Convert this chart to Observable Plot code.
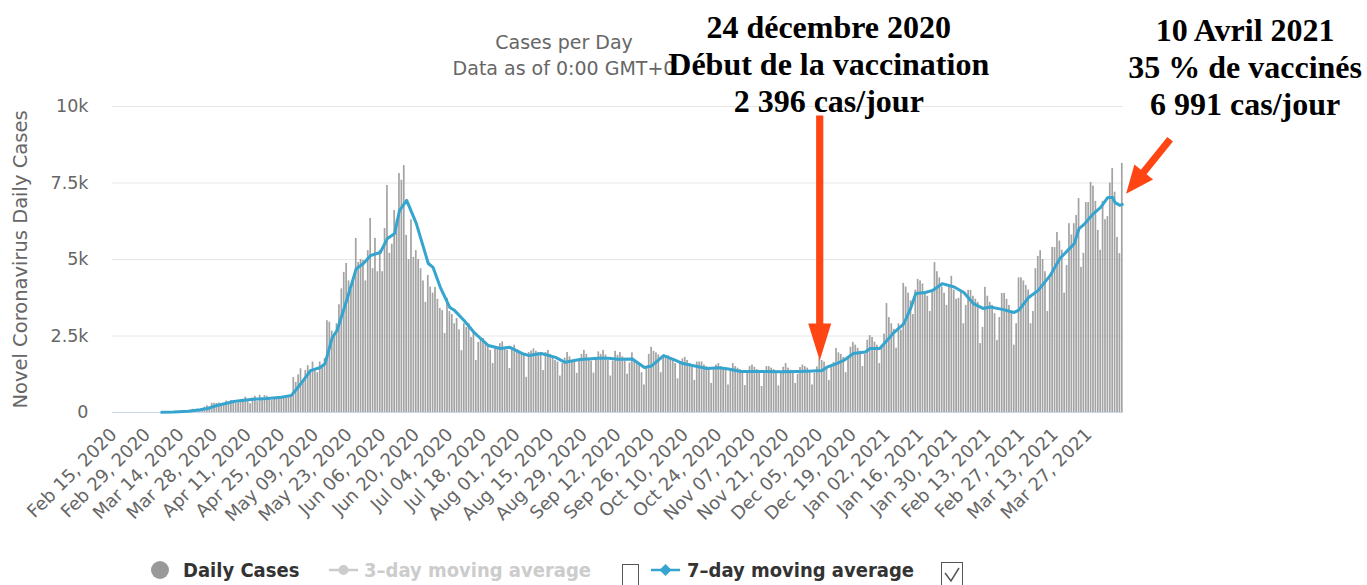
<!DOCTYPE html>
<html>
<head>
<meta charset="utf-8">
<script src="https://cdn.jsdelivr.net/npm/d3@7"></script>
<script src="https://cdn.jsdelivr.net/npm/@observablehq/plot@0.6"></script>
<style>
  body { margin: 0; background: #fff; }
  #chart { width: 1367px; height: 545px; }
  #legend { position: relative; width: 1367px; height: 40px; overflow: hidden;
    font-family: "DejaVu Sans Condensed", "DejaVu Sans", sans-serif; font-weight: bold; font-size: 20px; }
  #legend .t { position: absolute; top: 12px; line-height: 26px; white-space: nowrap; }
  #legend .box { position: absolute; top: 19px; width: 17px; height: 22px; border: 1.5px solid #555; box-sizing: border-box; background: #fff; }
  #legend svg { position: absolute; }
</style>
</head>
<body>
<div id="chart"></div>
<div id="legend">
  <span style="position:absolute;left:151px;top:16px;width:18px;height:18px;border-radius:50%;background:#999"></span>
  <span class="t" style="left:183px;color:#333">Daily Cases</span>
  <svg style="left:328px;top:15px" width="32" height="20"><line x1="1" y1="10" x2="30" y2="10" stroke="#ccc" stroke-width="2.5"/><circle cx="15.5" cy="10" r="5" fill="#ccc"/></svg>
  <span class="t" style="left:364px;color:#ccc">3–day moving average</span>
  <span class="box" style="left:622px"></span>
  <svg style="left:650px;top:15px" width="32" height="20"><line x1="1" y1="10" x2="30" y2="10" stroke="#35a4cf" stroke-width="2.5"/><path d="M15.5 4 L21.5 10 L15.5 16 L9.5 10 Z" fill="#35a4cf"/></svg>
  <span class="t" style="left:687px;color:#333">7–day moving average</span>
  <span class="box" style="left:941px;top:17px;width:22px;height:26px"><svg style="left:2px;top:4px" width="16" height="16"><path d="M1 6 L7 14 L15 1" fill="none" stroke="#555" stroke-width="1.5"/></svg></span>
</div>
<script>
// ---- data ----
const firstDay = "2020-02-15";
// daily new cases, one value per day from 2020-02-15 to 2021-04-10
const dailyCases = [
  0,0,0,0,0,0,0,
  0,0,0,0,0,0,0,
  0,0,0,1,2,1,1,
  2,3,3,4,6,10,10,
  18,14,61,40,46,104,92,
  103,95,114,176,220,164,304,
  299,293,310,289,293,373,308,
  392,344,301,310,426,430,502,
  426,286,470,529,357,563,399,
  552,531,425,394,494,500,482,
  530,480,465,490,550,1140,985,
  1230,1430,980,1370,1530,1390,1650,
  1350,1300,1650,1530,1760,3000,2950,
  2660,2500,2900,3520,4040,4580,4870,
  4300,4000,4300,5690,4900,5000,4970,
  4300,5290,6340,4700,5690,4600,5300,
  4600,6010,7420,5200,5500,6600,6300,
  7810,7590,8070,5790,5000,6300,5070,
  5290,5000,4700,4300,3600,4480,4100,
  3900,4090,3700,3400,3330,2580,3730,
  3300,3200,2900,3070,2700,2020,2900,
  2780,2900,2450,2600,1700,2290,2420,
  2420,2300,2200,2030,1600,2090,2130,
  2250,2310,2090,2030,1440,2090,2200,
  2050,1960,1900,1860,1150,1960,2010,
  2080,2000,1960,1900,1370,1960,2030,
  1900,1800,1700,1650,1190,1600,1780,
  1960,1820,1700,1690,1280,1700,1900,
  2030,1900,1760,1680,1290,1750,1980,
  1900,2030,1880,1700,1190,1680,2000,
  1870,1960,1820,1690,1250,1620,1950,
  1700,1600,1550,1300,900,1450,1900,
  2130,2000,1950,1880,1300,1800,1850,
  1850,1750,1700,1600,1100,1600,1750,
  1800,1700,1600,1500,1050,1650,1650,
  1650,1550,1500,1450,950,1450,1550,
  1600,1500,1450,1400,900,1350,1600,
  1500,1450,1400,1350,880,1350,1500,
  1550,1480,1400,1300,850,1300,1500,
  1500,1450,1400,1300,870,1320,1480,
  1600,1450,1380,1350,950,1250,1470,
  1550,1500,1450,1350,900,1280,1490,
  1770,1700,1650,1500,1050,1550,1630,
  2090,1950,1900,1800,1300,1780,2130,
  2290,2200,2100,2000,1500,1900,2360,
  2510,2450,2300,2200,1600,2130,2560,
  3560,3100,2900,2720,2100,2900,2690,
  4220,4100,3900,3650,3200,4000,4350,
  4300,4200,3950,3800,3300,4000,4900,
  4600,4400,4100,3900,3500,4100,4450,
  4000,3700,3730,3990,2900,3500,3990,
  3990,3800,3700,3600,2250,2780,4090,
  3800,3600,3500,3230,2350,3100,3890,
  3890,3700,3500,3300,2200,2900,4400,
  4400,4300,4150,4000,2900,3300,4700,
  5100,5290,5000,4600,3300,4400,5390,
  5390,5880,5600,5300,3900,4800,6170,
  5800,6170,6440,6990,4740,5200,6860,
  6860,7520,7400,6900,5950,5300,6900,
  6300,6400,7500,7970,7200,5720,5190,
  8140
];
// 7-day moving average
const avgDates = [
  "2020-03-06","2020-03-11","2020-03-17","2020-03-22","2020-03-25","2020-03-29","2020-04-02","2020-04-05",
  "2020-04-11","2020-04-15","2020-04-19","2020-04-25","2020-04-29","2020-05-01","2020-05-03","2020-05-07",
  "2020-05-11","2020-05-13","2020-05-16","2020-05-18","2020-05-22","2020-05-26","2020-05-29","2020-06-01",
  "2020-06-05","2020-06-08","2020-06-11","2020-06-13","2020-06-16","2020-06-20","2020-06-25","2020-06-27",
  "2020-06-30","2020-07-04","2020-07-06","2020-07-10","2020-07-14","2020-07-20","2020-07-25","2020-07-29",
  "2020-08-03","2020-08-06","2020-08-11","2020-08-17","2020-08-21","2020-08-27","2020-09-04","2020-09-08",
  "2020-09-12","2020-09-18","2020-09-23","2020-09-26","2020-10-01","2020-10-06","2020-10-09","2020-10-14",
  "2020-10-19","2020-10-24","2020-10-28","2020-11-02","2020-11-12","2020-11-19","2020-11-26","2020-11-30",
  "2020-12-06","2020-12-08","2020-12-12","2020-12-15","2020-12-19","2020-12-24","2020-12-26","2020-12-30",
  "2021-01-02","2021-01-05","2021-01-09","2021-01-12","2021-01-14","2021-01-18","2021-01-21","2021-01-25",
  "2021-01-30","2021-02-03","2021-02-07","2021-02-11","2021-02-14","2021-02-19","2021-02-24","2021-02-26",
  "2021-03-02","2021-03-06","2021-03-11","2021-03-15","2021-03-21","2021-03-23","2021-03-25","2021-03-29",
  "2021-04-01","2021-04-04","2021-04-06","2021-04-07","2021-04-09","2021-04-10"
];
const avgValues = [
  5,15,40,90,130,230,300,360,
  420,445,460,500,560,750,950,1370,
  1470,1600,2450,2680,3660,4700,4870,5130,
  5230,5690,5850,6600,6930,6180,4870,4740,
  4090,3430,3330,3000,2620,2190,2090,2130,
  1930,1860,1930,1800,1640,1730,1770,1770,
  1740,1750,1470,1520,1860,1700,1600,1520,
  1440,1460,1420,1340,1340,1330,1340,1350,
  1370,1480,1600,1700,1930,1980,2090,2090,
  2350,2620,2900,3430,3890,3920,3990,4210,
  4100,3920,3560,3400,3450,3370,3270,3350,
  3760,3990,4480,5030,5520,6010,6140,6500,
  6700,7030,7030,6860,6770,6800
];
const xTickLabels = [
  "Feb 15, 2020","Feb 29, 2020","Mar 14, 2020","Mar 28, 2020","Apr 11, 2020","Apr 25, 2020",
  "May 09, 2020","May 23, 2020","Jun 06, 2020","Jun 20, 2020","Jul 04, 2020","Jul 18, 2020",
  "Aug 01, 2020","Aug 15, 2020","Aug 29, 2020","Sep 12, 2020","Sep 26, 2020","Oct 10, 2020",
  "Oct 24, 2020","Nov 07, 2020","Nov 21, 2020","Dec 05, 2020","Dec 19, 2020","Jan 02, 2021",
  "Jan 16, 2021","Jan 30, 2021","Feb 13, 2021","Feb 27, 2021","Mar 13, 2021","Mar 27, 2021"
];
const yTicks = [0, 2500, 5000, 7500, 10000];
const yTickLabels = ["0", "2.5k", "5k", "7.5k", "10k"];
const titleText = "Cases per Day";
const subtitleText = "Data as of 0:00 GMT+0";
const yTitle = "Novel Coronavirus Daily Cases";
// annotations: arrow tip (date, value) and text block placement (date, value)
const notes = [
  {tip: "2020-12-05T12:00", tipValue: 1700, len: 245, angle: 180, head: 37, headW: 23,
   at: "2020-12-05T12:00", atValue: 11420, dx: 9,
   text: "24 décembre 2020\nDébut de la vaccination\n2 396 cas/jour"},
  {tip: "2021-04-12T02:00", tipValue: 7150, len: 70, angle: 219, head: 28, headW: 24,
   at: "2021-04-12T02:00", atValue: 11320, dx: 119,
   text: "10 Avril 2021\n35 % de vaccinés\n6 991 cas/jour"}
];

// ---- build ----
const start = new Date(firstDay + "T00:00:00Z");
const days = dailyCases.map((v, i) => ({date: d3.utcDay.offset(start, i), cases: v}));
const end = d3.utcDay.offset(start, dailyCases.length);
const avg = avgDates.map((d, i) => ({date: new Date(d + "T12:00:00Z"), value: avgValues[i]}));
const parseTick = d3.utcParse("%b %d, %Y");
const xTicks = xTickLabels.map(s => d3.utcHour.offset(parseTick(s), 12));
const noteData = notes.map(n => ({...n, tipDate: new Date(n.tip + "Z"), atDate: new Date(n.at + "Z")}));

const arrowShape = (h, w) => ({
  draw(ctx, l) {
    const s = 3.6, a = w / 2;
    ctx.moveTo(-s, 0);
    ctx.lineTo(-s, -(l - h));
    ctx.lineTo(-a, -(l - h));
    ctx.lineTo(0, -l);
    ctx.lineTo(a, -(l - h));
    ctx.lineTo(s, -(l - h));
    ctx.lineTo(s, 0);
    ctx.closePath();
  }
});

const chart = Plot.plot({
  width: 1367,
  height: 545,
  marginLeft: 112,
  marginRight: 244,
  marginTop: 106,
  marginBottom: 133,
  style: {fontFamily: "DejaVu Sans, sans-serif", background: "#fff"},
  x: {type: "utc", domain: [start, end]},
  y: {domain: [0, 10000]},
  marks: [
    Plot.gridY(yTicks, {stroke: "#e6e6e6", strokeOpacity: 1, strokeWidth: 1}),
    Plot.rectY(days, {x: "date", interval: "day", y: "cases", fill: "#a3a3a3", insetLeft: 0.35, insetRight: 0.35}),
    Plot.ruleY([0], {stroke: "#ccd6eb"}),
    Plot.line(avg, {x: "date", y: "value", stroke: "#35a4cf", strokeWidth: 3, strokeLinejoin: "round"}),
    Plot.axisY({ticks: yTicks, tickFormat: d => yTickLabels[yTicks.indexOf(d)], tickSize: 0, tickPadding: 24, fontSize: 17.5, fill: "#666", label: null}),
    Plot.axisX({ticks: xTicks, tickFormat: d3.utcFormat("%b %d, %Y"), tickRotate: -45, tickSize: 0, tickPadding: 19, fontSize: 18, fill: "#666", label: null}),
    Plot.text([yTitle], {frameAnchor: "left", rotate: -90, dx: -92, textAnchor: "middle", lineAnchor: "middle", fontSize: 19.5, fill: "#666"}),
    Plot.text([titleText], {frameAnchor: "top", dx: -54, dy: -64, lineAnchor: "middle", fontSize: 19, fill: "#666"}),
    Plot.text([subtitleText], {frameAnchor: "top", dx: -54, dy: -38, lineAnchor: "middle", fontSize: 19, fill: "#666"}),
    ...noteData.map(n => Plot.vector([n], {x: "tipDate", y: "tipValue", length: n.len, rotate: n.angle, anchor: "end",
      shape: arrowShape(n.head, n.headW), fill: "#ff4513", stroke: "none"})),
    Plot.text(noteData, {x: "atDate", y: "atValue", text: "text", lineAnchor: "middle", lineHeight: 1.15,
      fontFamily: "Liberation Serif, Times New Roman, serif", fontWeight: "bold", fontSize: 32, fill: "#000"})
  ]
});
document.getElementById("chart").appendChild(chart);
// apply per-note horizontal offsets
const noteTexts = chart.querySelectorAll("g[aria-label='text']");
const last = noteTexts[noteTexts.length - 1];
last.querySelectorAll("text").forEach((t, i) => {
  const dx = noteData[i].dx;
  const tr = t.getAttribute("transform") || "";
  t.setAttribute("transform", `translate(${dx},0) ` + tr);
});
</script>
</body>
</html>
